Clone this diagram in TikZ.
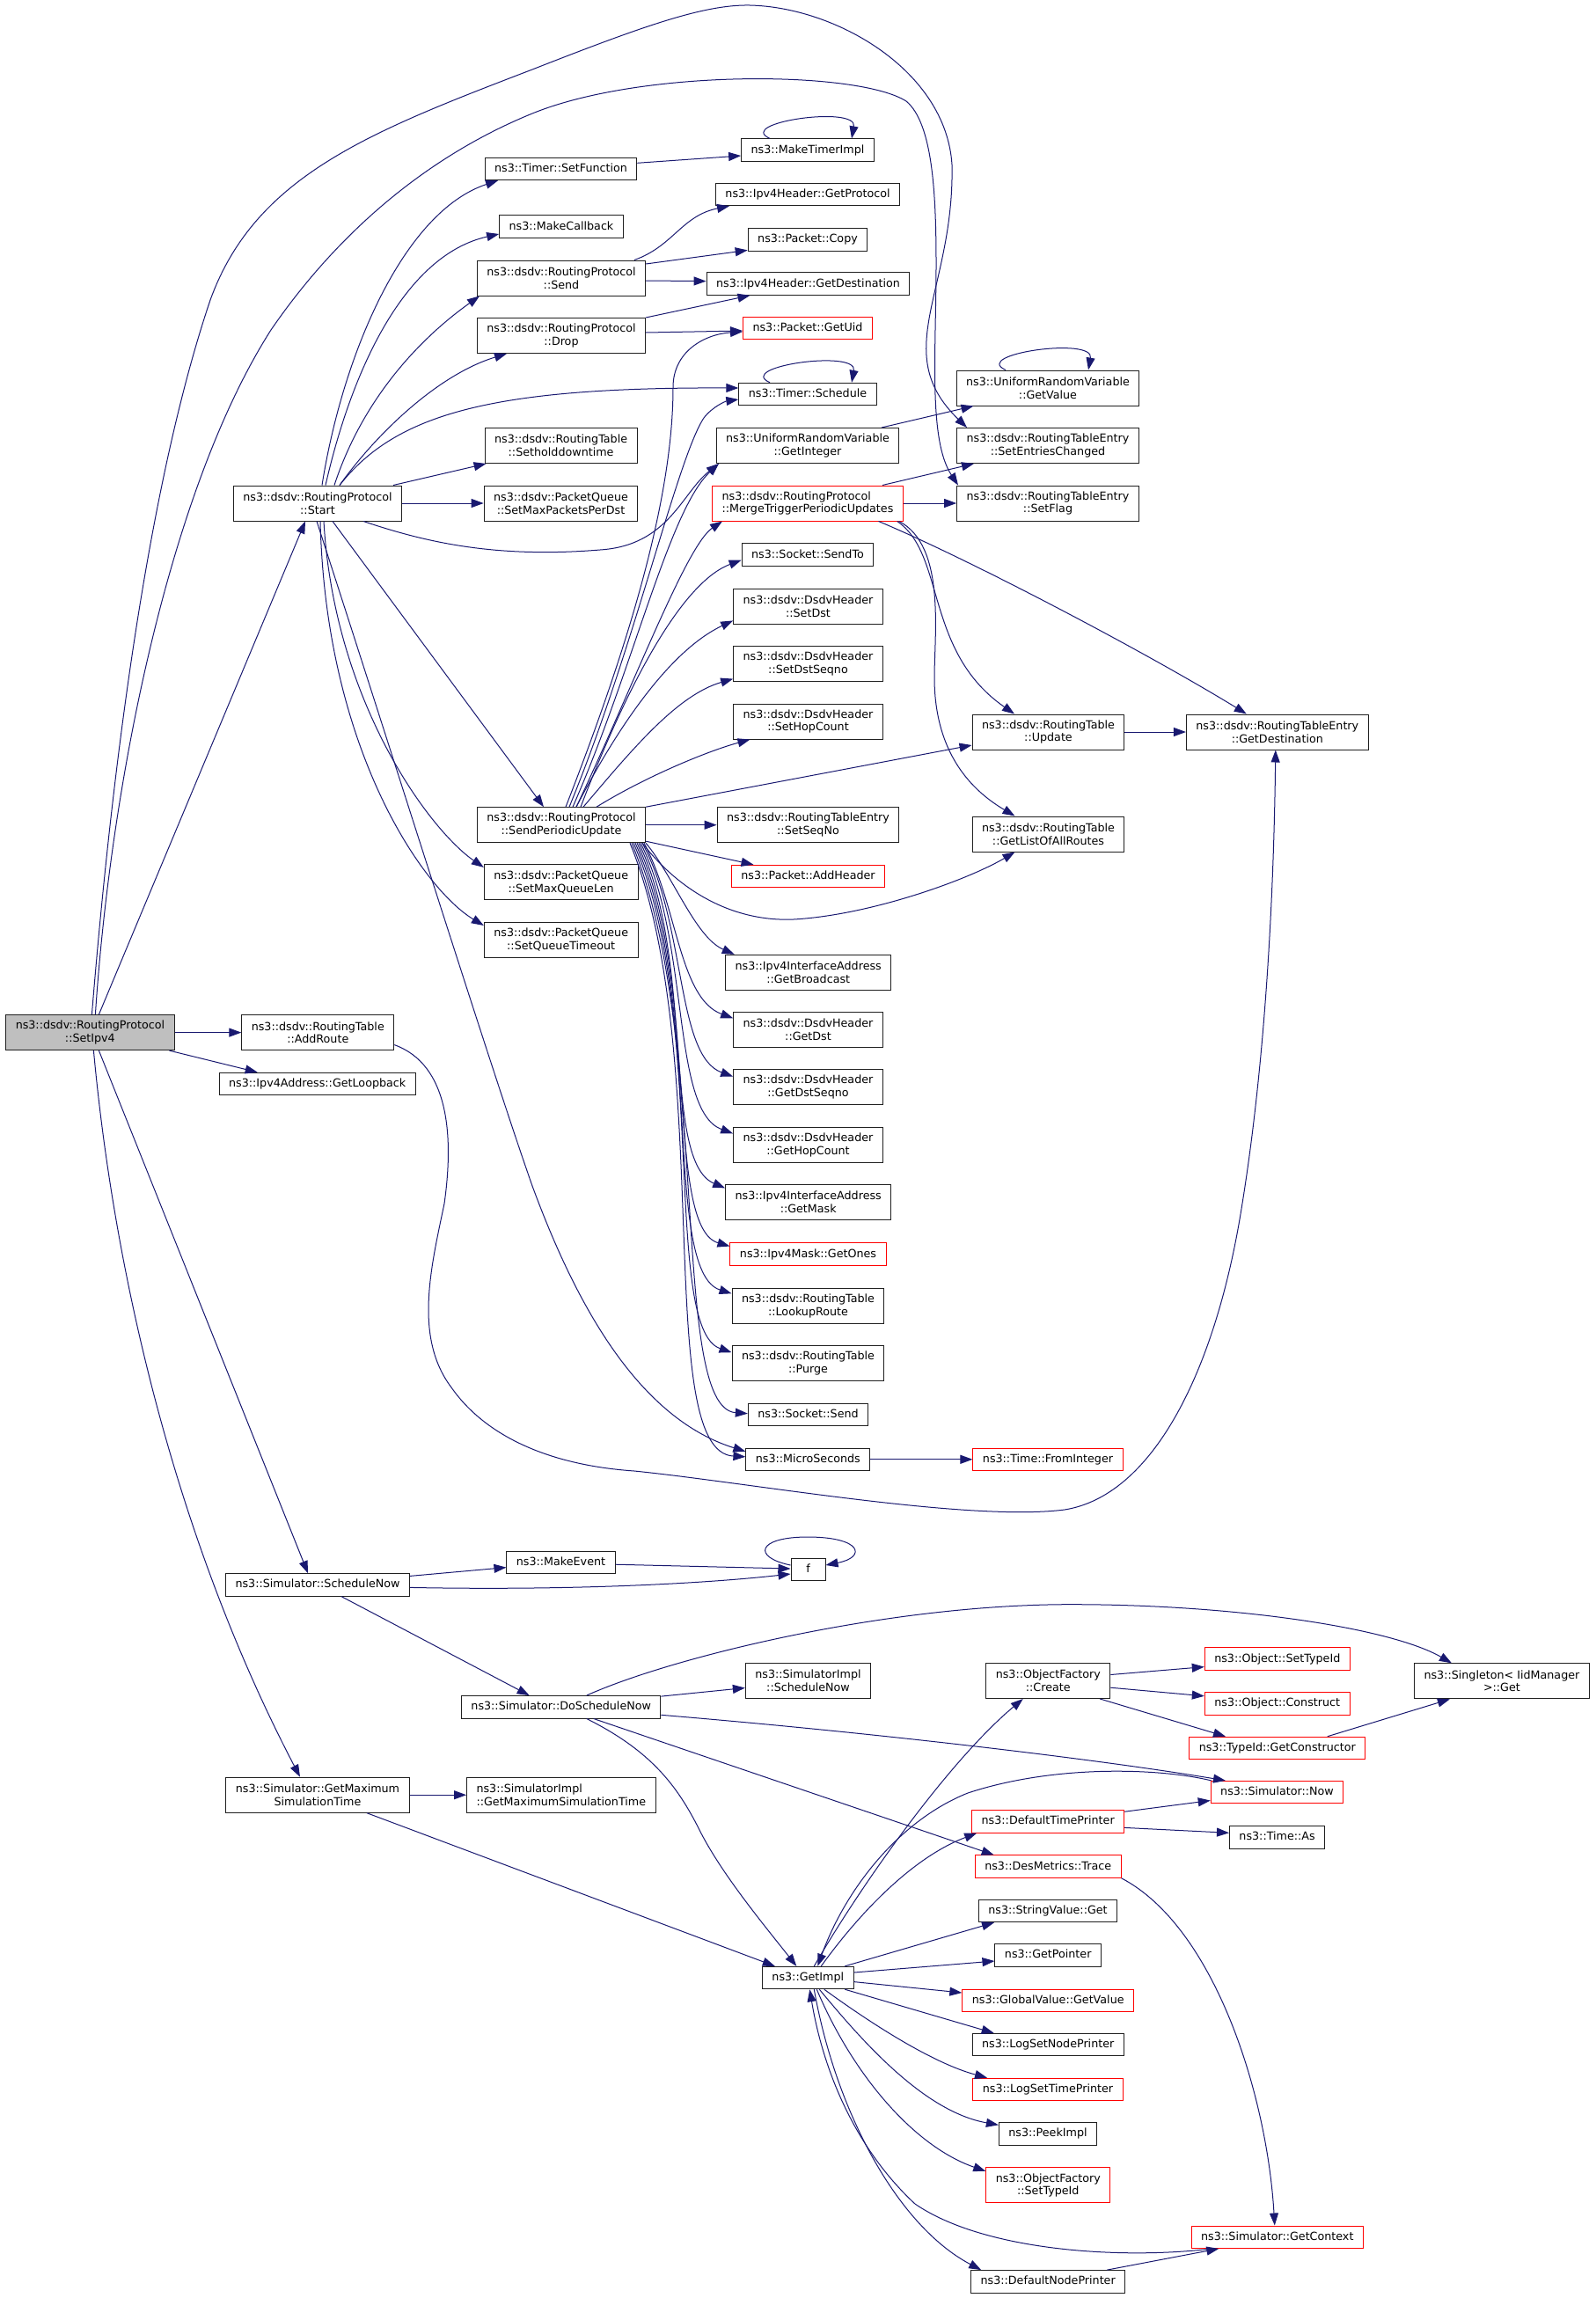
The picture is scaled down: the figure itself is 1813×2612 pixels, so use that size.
\documentclass[tikz,border=0pt]{standalone}
\usepackage{fontspec}
\setmainfont{DejaVu Sans}
\usetikzlibrary{arrows.meta}
\definecolor{callblue}{HTML}{191970}
\definecolor{selgray}{HTML}{BFBFBF}
\definecolor{boxline}{HTML}{202020}
\newcommand{\fnfont}{\fontsize{12.7}{14.6}\selectfont}
\tikzset{
  fn/.style={draw=boxline, line width=1pt, fill=white, inner xsep=11pt, inner ysep=0pt,
    minimum height=25.4pt, text height=9.6pt, text depth=2.6pt, font=\fnfont},
  fntwo/.style={draw=boxline, line width=1pt, fill=white, inner xsep=11pt, inner ysep=0pt,
    minimum height=40pt, align=center, font=\fnfont},
  fnred/.style={fn, draw=red},
  fntwored/.style={fntwo, draw=red},
  fnsel/.style={fntwo, fill=selgray},
  callline/.style={draw=callblue, line width=1pt, -{Triangle[length=14pt,width=10pt]}}
}
\begin{document}
\begin{tikzpicture}[x=1pt,y=-1pt]
    \useasboundingbox (0,0) rectangle (1813,2612);
    \node[fnsel] (setipv4) at (102.4,1173.6) {ns3::dsdv::RoutingProtocol\\::SetIpv4};
    \node[fntwo] (start) at (361,572) {ns3::dsdv::RoutingProtocol\\::Start};
    \node[fntwo] (addroute) at (361.3,1173.6) {ns3::dsdv::RoutingTable\\::AddRoute};
    \node[fn] (getloopback) at (360.7,1232) {ns3::Ipv4Address::GetLoopback};
    \node[fn] (schedulenow) at (361,1801.4) {ns3::Simulator::ScheduleNow};
    \node[fntwo] (getmaxsim) at (361,2040.2) {ns3::Simulator::GetMaximum\\SimulationTime};
    \node[fn] (setfunction) at (637.5,192) {ns3::Timer::SetFunction};
    \node[fn] (makecallback) at (638,257.5) {ns3::MakeCallback};
    \node[fntwo] (send) at (638,316) {ns3::dsdv::RoutingProtocol\\::Send};
    \node[fntwo] (drop) at (638,381.5) {ns3::dsdv::RoutingProtocol\\::Drop};
    \node[fntwo] (setholddown) at (637.6,506.5) {ns3::dsdv::RoutingTable\\::Setholddowntime};
    \node[fntwo] (setmaxpackets) at (637.5,572) {ns3::dsdv::PacketQueue\\::SetMaxPacketsPerDst};
    \node[fntwo] (sendperiodic) at (638,937.7) {ns3::dsdv::RoutingProtocol\\::SendPeriodicUpdate};
    \node[fntwo] (setmaxqueue) at (637.7,1002.9) {ns3::dsdv::PacketQueue\\::SetMaxQueueLen};
    \node[fntwo] (setqueuetimeout) at (637.7,1068) {ns3::dsdv::PacketQueue\\::SetQueueTimeout};
    \node[fn] (makeevent) at (637.5,1776.2) {ns3::MakeEvent};
    \node[fn] (doschedule) at (637.7,1940.3) {ns3::Simulator::DoScheduleNow};
    \node[fntwo, align=left] (implgetmax) at (637.8,2040.2) {ns3::SimulatorImpl\\::GetMaximumSimulationTime};
    \node[fn] (maketimerimpl) at (918,170.6) {ns3::MakeTimerImpl};
    \node[fn] (getprotocol) at (918,221) {ns3::Ipv4Header::GetProtocol};
    \node[fn] (packetcopy) at (918,272.4) {ns3::Packet::Copy};
    \node[fn] (hdrgetdest) at (918.5,322.6) {ns3::Ipv4Header::GetDestination};
    \node[fnred] (getuid) at (918,373) {ns3::Packet::GetUid};
    \node[fn] (timerschedule) at (918,448) {ns3::Timer::Schedule};
    \node[fntwo] (getinteger) at (918,506.5) {ns3::UniformRandomVariable\\::GetInteger};
    \node[fntwored, align=left] (mergetrigger) at (918,572) {ns3::dsdv::RoutingProtocol\\::MergeTriggerPeriodicUpdates};
    \node[fn] (sendto) at (918,630.6) {ns3::Socket::SendTo};
    \node[fntwo] (setdst) at (918.5,689.4) {ns3::dsdv::DsdvHeader\\::SetDst};
    \node[fntwo] (setdstseqno) at (918.5,754.6) {ns3::dsdv::DsdvHeader\\::SetDstSeqno};
    \node[fntwo] (sethopcount) at (918.5,820) {ns3::dsdv::DsdvHeader\\::SetHopCount};
    \node[fntwo] (setseqno) at (918.5,937.7) {ns3::dsdv::RoutingTableEntry\\::SetSeqNo};
    \node[fnred] (addheader) at (918.5,996) {ns3::Packet::AddHeader};
    \node[fntwo] (getbroadcast) at (918.7,1105.3) {ns3::Ipv4InterfaceAddress\\::GetBroadcast};
    \node[fntwo] (getdst) at (918.5,1170.3) {ns3::dsdv::DsdvHeader\\::GetDst};
    \node[fntwo] (getdstseqno) at (918.5,1235.7) {ns3::dsdv::DsdvHeader\\::GetDstSeqno};
    \node[fntwo] (gethopcount) at (918.5,1301.5) {ns3::dsdv::DsdvHeader\\::GetHopCount};
    \node[fntwo] (getmask) at (918.7,1366.4) {ns3::Ipv4InterfaceAddress\\::GetMask};
    \node[fnred] (getones) at (918.5,1425.5) {ns3::Ipv4Mask::GetOnes};
    \node[fntwo] (lookuproute) at (918.5,1484.3) {ns3::dsdv::RoutingTable\\::LookupRoute};
    \node[fntwo] (purge) at (918.5,1549.2) {ns3::dsdv::RoutingTable\\::Purge};
    \node[fn] (socketsend) at (918.5,1608.2) {ns3::Socket::Send};
    \node[fn] (microseconds) at (918.3,1658.8) {ns3::MicroSeconds};
    \node[fn, minimum width=39pt] (f) at (918.5,1784) {f};
    \node[fntwo] (implschedulenow) at (918.5,1910.5) {ns3::SimulatorImpl\\::ScheduleNow};
    \node[fn] (getimpl) at (918.3,2248) {ns3::GetImpl};
    \node[fntwo] (getvalue) at (1191,441) {ns3::UniformRandomVariable\\::GetValue};
    \node[fntwo] (setentries) at (1191,506.5) {ns3::dsdv::RoutingTableEntry\\::SetEntriesChanged};
    \node[fntwo] (setflag) at (1191,572) {ns3::dsdv::RoutingTableEntry\\::SetFlag};
    \node[fntwo] (update) at (1191.5,832) {ns3::dsdv::RoutingTable\\::Update};
    \node[fntwo] (getlistall) at (1191.5,948) {ns3::dsdv::RoutingTable\\::GetListOfAllRoutes};
    \node[fnred] (frominteger) at (1191,1658.8) {ns3::Time::FromInteger};
    \node[fntwo] (create) at (1191.3,1910.5) {ns3::ObjectFactory\\::Create};
    \node[fnred] (defaulttime) at (1191.2,2070.4) {ns3::DefaultTimePrinter};
    \node[fnred] (trace) at (1191.2,2121.6) {ns3::DesMetrics::Trace};
    \node[fn] (stringget) at (1191,2172) {ns3::StringValue::Get};
    \node[fn] (getpointer) at (1191.2,2222.4) {ns3::GetPointer};
    \node[fnred] (globalgetvalue) at (1191.2,2273.7) {ns3::GlobalValue::GetValue};
    \node[fn] (lognodeprinter) at (1191.2,2324.1) {ns3::LogSetNodePrinter};
    \node[fnred] (logtimeprinter) at (1191,2374.9) {ns3::LogSetTimePrinter};
    \node[fn] (peekimpl) at (1191,2425.3) {ns3::PeekImpl};
    \node[fntwored] (factorysettypeid) at (1191.3,2483.8) {ns3::ObjectFactory\\::SetTypeId};
    \node[fn] (defaultnode) at (1191.2,2593.3) {ns3::DefaultNodePrinter};
    \node[fntwo] (rtegetdest) at (1451.8,832) {ns3::dsdv::RoutingTableEntry\\::GetDestination};
    \node[fnred] (objsettypeid) at (1451.8,1885.6) {ns3::Object::SetTypeId};
    \node[fnred] (construct) at (1451.7,1936.4) {ns3::Object::Construct};
    \node[fnred] (getconstructor) at (1451.8,1986.9) {ns3::TypeId::GetConstructor};
    \node[fnred] (simnow) at (1451.5,2037.1) {ns3::Simulator::Now};
    \node[fn] (timeas) at (1451.6,2088.3) {ns3::Time::As};
    \node[fnred] (getcontext) at (1451.8,2542.7) {ns3::Simulator::GetContext};
    \node[fntwo] (singleton) at (1706.9,1910.8) {ns3::Singleton< IidManager\\>::Get};

    \draw[callline] ([xshift=10]setipv4.north) -- ([xshift=-14]start.south);
    \draw[callline] ([xshift=2]setipv4.north) .. controls (125,900) and (165,560) .. (239,341)
        .. controls (290,200) and (420,150) .. (605,79)
        .. controls (730,30) and (800,5) .. (852,6)
        .. controls (950,8) and (1075,80) .. (1082,187)
        .. controls (1085,330) and (1010,400) .. ([xshift=-92]setentries.north);
    \draw[callline] ([xshift=6]setipv4.north) .. controls (125,900) and (190,560) .. (308,375)
        .. controls (380,270) and (480,180) .. (605,129)
        .. controls (730,78) and (975,80) .. (1030,115)
        .. controls (1060,140) and (1064,220) .. (1064,300)
        .. controls (1064,400) and (1055,500) .. ([xshift=-102]setflag.north);
    \draw[callline] (setipv4.east) -- (addroute.west);
    \draw[callline] ([xshift=90]setipv4.south) -- ([xshift=-68]getloopback.north);
    \draw[callline] ([xshift=10]setipv4.south) -- ([xshift=-11]schedulenow.north);
    \draw[callline] ([xshift=4]setipv4.south) .. controls (130,1450) and (200,1750) .. ([xshift=-20]getmaxsim.north);
    \draw[callline] ([yshift=-14]addroute.east) .. controls (510,1210) and (516,1290) .. (505,1368)
        .. controls (490,1440) and (470,1520) .. (513,1577)
        .. controls (550,1630) and (620,1665) .. (721,1672)
        .. controls (850,1685) and (1100,1730) .. (1210,1716)
        .. controls (1310,1700) and (1380,1560) .. (1410,1380)
        .. controls (1440,1200) and (1448,1000) .. ([xshift=-2]rtegetdest.south);

    \draw[callline] ([xshift=5]start.north) .. controls (390,400) and (460,240) .. ([xshift=-71.5]setfunction.south);
    \draw[callline] ([xshift=9]start.north) .. controls (400,420) and (460,290) .. ([yshift=-8.5]makecallback.west);
    \draw[callline] ([xshift=19]start.north) .. controls (410,460) and (470,390) .. ([xshift=-93]send.south);
    \draw[callline] ([xshift=25]start.north) .. controls (430,490) and (500,425) .. ([xshift=-62]drop.south);
    \draw[callline] ([xshift=25]start.north) .. controls (450,470) and (560,440) .. ([yshift=7]timerschedule.west);
    \draw[callline] ([xshift=86]start.north) -- ([xshift=-85]setholddown.south);
    \draw[callline] (start.east) -- (setmaxpackets.west);
    \draw[callline] ([xshift=52]start.south) .. controls (480,615) and (560,635) .. (682,625)
        .. controls (760,620) and (775,560) .. ([xshift=-101]getinteger.south);
    \draw[callline] ([xshift=17]start.south) -- ([xshift=-20]sendperiodic.north);
    \draw[callline] ([xshift=7]start.south) .. controls (380,800) and (490,945) .. ([yshift=17]setmaxqueue.west);
    \draw[callline] ([xshift=3]start.south) .. controls (370,850) and (480,1010) .. ([yshift=16]setqueuetimeout.west);
    \draw[callline] ([xshift=-1]start.south) .. controls (450,870) and (560,1220) .. (605,1348)
        .. controls (650,1470) and (720,1610) .. ([yshift=9]microseconds.west);

    \draw[callline] ([xshift=83]send.north) .. controls (765,280) and (775,245) .. ([xshift=-89]getprotocol.south);
    \draw[callline] ([yshift=16]send.east) -- ([yshift=-12]packetcopy.west);
    \draw[callline] ([yshift=-3]send.east) -- ([yshift=3]hdrgetdest.west);
    \draw[callline] ([xshift=96]drop.north) -- ([xshift=-66]hdrgetdest.south);
    \draw[callline] ([yshift=3.5]drop.east) -- ([yshift=-3]getuid.west);
    \draw[callline] ([yshift=6.7]setfunction.east) -- ([yshift=-6.4]maketimerimpl.west);
    \draw[callline] ([xshift=-43]maketimerimpl.north) .. controls +(-40,-18) and +(7,-38) .. ([xshift=50]maketimerimpl.north);
    \draw[callline] ([xshift=-43]timerschedule.north) .. controls +(-40,-18) and +(7,-38) .. ([xshift=50]timerschedule.north);
    \draw[callline] ([xshift=-48]getvalue.north) .. controls +(-40,-18) and +(7,-38) .. ([xshift=46]getvalue.north);

    \draw[callline] ([xshift=84]getinteger.north) -- ([xshift=-84.5]getvalue.south);
    \draw[callline] ([xshift=85]mergetrigger.north) -- ([xshift=-84]setentries.south);
    \draw[callline] (mergetrigger.east) -- (setflag.west);
    \draw[callline] ([xshift=80.5]mergetrigger.south) .. controls (1100,635) and (1300,740) .. ([xshift=-35]rtegetdest.north);
    \draw[callline] ([xshift=101.7]mergetrigger.south) .. controls (1075,630) and (1050,740) .. ([xshift=-38.5]update.north);
    \draw[callline] ([xshift=103.8]mergetrigger.south) .. controls (1075,620) and (1062,720) .. (1062,770)
        .. controls (1062,840) and (1090,890) .. ([xshift=-38]getlistall.north);
    \draw[callline] (update.east) -- (rtegetdest.west);

    \draw[callline] ([xshift=5]sendperiodic.north) .. controls (720,720) and (765,560) .. (765,440)
        .. controls (765,400) and (800,380) .. ([yshift=-4]getuid.west);
    \draw[callline] ([xshift=9]sendperiodic.north) .. controls (720,740) and (770,520) .. (800,475)
        .. controls (810,462) and (825,456) .. ([yshift=-6]timerschedule.west);
    \draw[callline] ([xshift=13]sendperiodic.north) .. controls (720,760) and (760,580) .. ([xshift=-101]getinteger.south);
    \draw[callline] ([xshift=17]sendperiodic.north) .. controls (720,780) and (780,620) .. ([xshift=-97]mergetrigger.south);
    \draw[callline] ([xshift=22]sendperiodic.north) .. controls (720,760) and (780,660) .. ([yshift=-6]sendto.west);
    \draw[callline] ([xshift=17]sendperiodic.north) .. controls (700,830) and (760,740) .. ([yshift=-16]setdst.west);
    \draw[callline] ([xshift=25]sendperiodic.north) .. controls (720,850) and (770,790) .. ([yshift=-17]setdstseqno.west);
    \draw[callline] ([xshift=40]sendperiodic.north) .. controls (730,885) and (800,855) .. ([xshift=-66]sethopcount.south);
    \draw[callline] (sendperiodic.north east) -- ([yshift=-15]update.west);
    \draw[callline] (sendperiodic.east) -- (setseqno.west);
    \draw[callline] ([yshift=2]sendperiodic.south east) -- ([xshift=-62]addheader.north);
    \draw[callline] ([xshift=92]sendperiodic.south) .. controls (770,1010) and (830,1048) .. (902,1045)
        .. controls (990,1040) and (1100,1000) .. ([xshift=-38]getlistall.south);
    \draw[callline] ([xshift=96]sendperiodic.south) .. controls (765,995) and (790,1065) .. ([xshift=-84]getbroadcast.north);
    \draw[callline] ([xshift=94]sendperiodic.south) .. controls (770,1030) and (772,1135) .. ([yshift=13]getdst.west);
    \draw[callline] ([xshift=92]sendperiodic.south) .. controls (780,1050) and (768,1200) .. ([yshift=12]getdstseqno.west);
    \draw[callline] ([xshift=90]sendperiodic.south) .. controls (785,1070) and (762,1262) .. ([yshift=13]gethopcount.west);
    \draw[callline] ([xshift=88]sendperiodic.south) .. controls (790,1090) and (752,1320) .. ([yshift=16]getmask.west);
    \draw[callline] ([xshift=86]sendperiodic.south) .. controls (795,1110) and (755,1395) .. ([yshift=9]getones.west);
    \draw[callline] ([xshift=84]sendperiodic.south) .. controls (800,1130) and (752,1445) .. ([yshift=14]lookuproute.west);
    \draw[callline] ([xshift=82]sendperiodic.south) .. controls (805,1150) and (752,1510) .. ([yshift=12]purge.west);
    \draw[callline] ([xshift=80]sendperiodic.south) .. controls (810,1180) and (760,1600) .. ([yshift=1.5]socketsend.west);
    \draw[callline] ([xshift=78]sendperiodic.south) .. controls (815,1200) and (740,1650) .. ([yshift=3]microseconds.west);
    \draw[callline] (microseconds.east) -- (frominteger.west);

    \draw[callline] ([yshift=10]schedulenow.east) -- ([yshift=-5.4]makeevent.west);
    \draw[callline] ([yshift=-3]schedulenow.east) .. controls (650,1808) and (800,1800) .. ([yshift=-5]f.west);
    \draw[callline] ([yshift=-2]makeevent.east) -- ([yshift=1]f.west);
    \draw[callline] ([yshift=5]f.west) .. controls (855,1770) and (860,1747) .. (918,1747)
        .. controls (980,1747) and (985,1770) .. ([yshift=5]f.east);
    \draw[callline] ([xshift=27]schedulenow.south) -- ([xshift=-36]doschedule.north);
    \draw[callline] ([yshift=-1]doschedule.north east) -- ([yshift=-8]implschedulenow.west);
    \draw[callline] ([xshift=29]doschedule.north) .. controls (760,1885) and (1000,1825) .. (1210,1823.7)
        .. controls (1400,1823) and (1580,1850) .. ([xshift=-57]singleton.north);
    \draw[callline] ([yshift=-9]doschedule.east) .. controls (1000,1970) and (1250,2000) .. ([xshift=-58.5]simnow.north);
    \draw[callline] ([xshift=29]doschedule.south) .. controls (740,1990) and (770,2030) .. (795,2080)
        .. controls (820,2130) and (870,2190) .. ([xshift=-13]getimpl.north);
    \draw[callline] ([xshift=37]doschedule.south) -- ([xshift=-61.5]trace.north);
    \draw[callline] (getmaxsim.east) -- (implgetmax.west);
    \draw[callline] ([xshift=56]getmaxsim.south) -- ([xshift=-37.5]getimpl.north);

    \draw[callline] ([xshift=7]getimpl.north) .. controls (980,2140) and (1080,2000) .. ([xshift=-28.6]create.south);
    \draw[callline] ([xshift=-74.8]simnow.north) .. controls (1320,2010) and (1200,2005) .. (1100,2038)
        .. controls (1020,2070) and (960,2150) .. ([xshift=11]getimpl.north);
    \draw[callline] ([xshift=15]getimpl.north) .. controls (980,2170) and (1040,2110) .. ([xshift=-81]defaulttime.south);
    \draw[callline] ([xshift=42]getimpl.north) -- ([xshift=-61]stringget.south);
    \draw[callline] ([yshift=6]getimpl.east) -- ([yshift=-6.6]getpointer.west);
    \draw[callline] ([yshift=-4.6]getimpl.east) -- ([yshift=8.7]globalgetvalue.west);
    \draw[callline] ([xshift=42]getimpl.south) -- ([xshift=-61.5]lognodeprinter.north);
    \draw[callline] ([xshift=18.5]getimpl.south) .. controls (990,2300) and (1060,2345) .. ([xshift=-69]logtimeprinter.north);
    \draw[callline] ([xshift=13]getimpl.south) .. controls (980,2320) and (1050,2400) .. ([yshift=10]peekimpl.west);
    \draw[callline] ([xshift=10]getimpl.south) .. controls (970,2360) and (1040,2440) .. ([yshift=16]factorysettypeid.west);
    \draw[callline] ([xshift=7]getimpl.south) .. controls (950,2400) and (1020,2530) .. ([xshift=-76]defaultnode.north);
    \draw[callline] ([xshift=-74.5]getcontext.south) .. controls (1280,2568) and (1120,2560) .. (1040,2505)
        .. controls (970,2440) and (935,2350) .. ([xshift=2]getimpl.south);
    \draw[callline] ([xshift=67]defaultnode.north) -- ([xshift=-66.5]getcontext.south);
    \draw[callline] (trace.south east) .. controls (1380,2190) and (1440,2380) .. ([xshift=-3]getcontext.north);
    \draw[callline] ([yshift=-2]defaulttime.north east) -- ([yshift=-9.4]simnow.west);
    \draw[callline] ([yshift=-7]defaulttime.east) -- ([yshift=5]timeas.west);
    \draw[callline] ([yshift=7]create.east) -- ([yshift=-9]objsettypeid.west);
    \draw[callline] ([yshift=-7.7]create.east) -- ([yshift=8.6]construct.west);
    \draw[callline] ([xshift=59]create.south) -- ([xshift=-58.8]getconstructor.north);
    \draw[callline] ([xshift=57]getconstructor.north) -- ([xshift=-59]singleton.south);
\end{tikzpicture}
\end{document}
